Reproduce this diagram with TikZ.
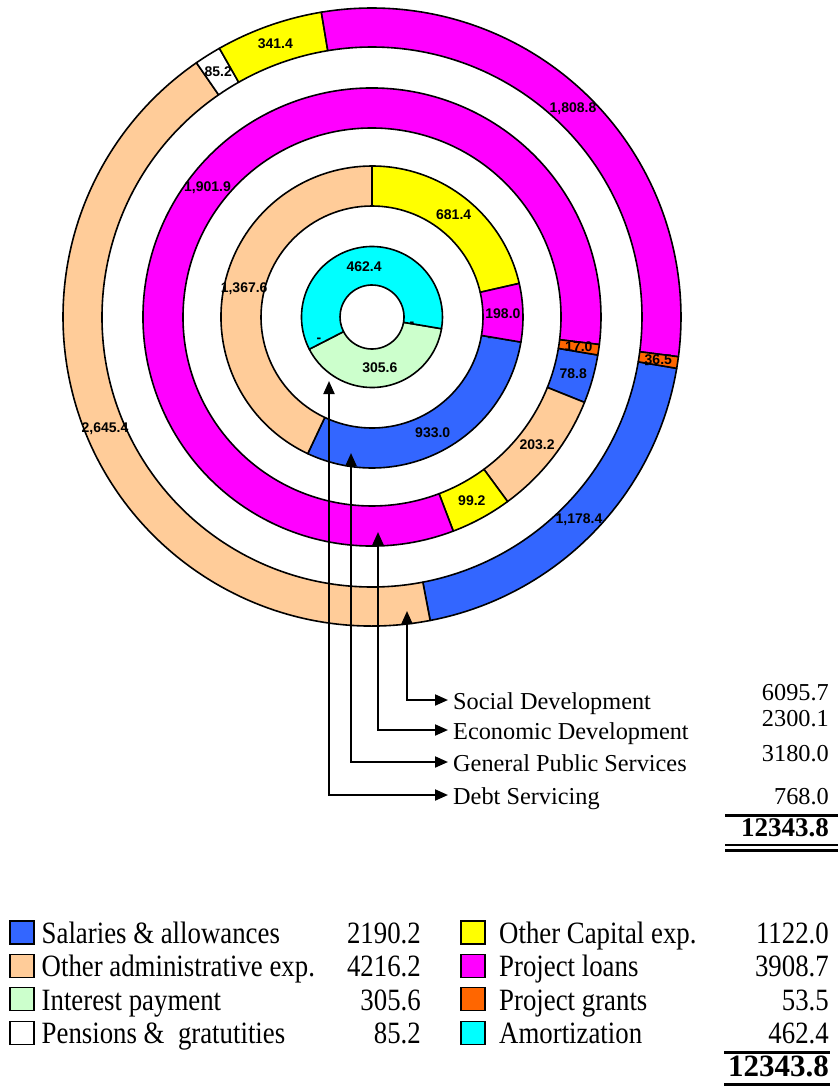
\documentclass[tikz,border=0pt]{standalone}
\usepackage{fontspec}
\setmainfont{Liberation Serif}
\newfontfamily\chartfont{Liberation Sans}
\newfontfamily\legfont[FakeStretch=0.865]{Liberation Serif}
\usetikzlibrary{arrows.meta}
\definecolor{cSal}{HTML}{3366FF}
\definecolor{cAdm}{HTML}{FFCC99}
\definecolor{cInt}{HTML}{CCFFCC}
\definecolor{cPen}{HTML}{FFFFFF}
\definecolor{cCap}{HTML}{FFFF00}
\definecolor{cLoan}{HTML}{FF00FF}
\definecolor{cGrant}{HTML}{FF6600}
\definecolor{cAmo}{HTML}{00FFFF}
\newcommand{\ringseg}[5]{%
  \filldraw[segline, fill=#5] (#3:#1) -- (#3:#2) arc[start angle=#3, end angle=#4, radius=#2] -- (#4:#1) arc[start angle=#4, end angle=#3, radius=#1] -- cycle;}
\tikzset{
  segline/.style={draw=black, line width=1.6bp, line join=round},
  vlab/.style={font=\chartfont\bfseries\fontsize{14bp}{14bp}\selectfont, inner sep=0pt},
  catlab/.style={font=\fontsize{24.3bp}{24.3bp}\selectfont, anchor=west, inner xsep=5bp, inner ysep=0pt, text height=18bp, text depth=0pt},
  tabnum/.style={font=\fontsize{24.3bp}{24.3bp}\selectfont, anchor=base east, inner sep=0pt},
  tabtot/.style={font=\bfseries\fontsize{27bp}{27bp}\selectfont, anchor=base east, inner sep=0pt},
  legtxt/.style={font=\legfont\fontsize{31bp}{31bp}\selectfont, anchor=base west, inner sep=0pt},
  legnum/.style={font=\legfont\fontsize{31bp}{31bp}\selectfont, anchor=base east, inner sep=0pt},
  legtot/.style={font=\bfseries\fontsize{31bp}{31bp}\selectfont, anchor=base east, inner sep=0pt},
  lbox/.style={draw=black, line width=1.5bp, minimum width=24bp, minimum height=23bp, inner sep=0pt},
  conn/.style={line width=2bp, arrows={Triangle[length=13bp,width=11bp]-Triangle[length=13bp,width=11bp]}},
  rule/.style={line width=3bp}
}
\begin{document}
\begin{tikzpicture}[x=1bp,y=1bp]
\fill[white] (0,0) rectangle (838,-1086);
\useasboundingbox (0,0) rectangle (838,-1086);
\begin{scope}[shift={(372,-317)}]
  % Social Development
  \ringseg{270}{309}{-9.56}{-79.15}{cSal}
  \ringseg{270}{309}{-79.15}{-235.38}{cAdm}
  \ringseg{270}{309}{-235.38}{-240.41}{cPen}
  \ringseg{270}{309}{-240.41}{-260.57}{cCap}
  \ringseg{270}{309}{-260.57}{-367.39}{cLoan}
  \ringseg{270}{309}{-367.39}{-369.56}{cGrant}
  % Economic Development
  \ringseg{189}{229}{-9.56}{-21.89}{cSal}
  \ringseg{189}{229}{-21.89}{-53.69}{cAdm}
  \ringseg{189}{229}{-53.69}{-69.22}{cCap}
  \ringseg{189}{229}{-69.22}{-366.90}{cLoan}
  \ringseg{189}{229}{-366.90}{-369.56}{cGrant}
  % General Public Services
  \ringseg{111}{151}{-9.56}{-115.18}{cSal}
  \ringseg{111}{151}{-115.18}{-270}{cAdm}
  \ringseg{111}{151}{-270}{-347.14}{cCap}
  \ringseg{111}{151}{-347.14}{-369.56}{cLoan}
  % Debt Servicing
  \ringseg{32}{70.5}{-9.56}{-152.81}{cInt}
  \ringseg{32}{70.5}{-152.81}{-369.56}{cAmo}
  % value labels
  \node[vlab] (vS1) at (-44.36:289.5) {1,178.4};
  \node[vlab] (vS2) at (-157.27:289.5) {2,645.4};
  \node[vlab] (vS3) at (-237.9:289.5) {85.2};
  \node[vlab] (vS4) at (-250.49:289.5) {341.4};
  \node[vlab] (vS5) at (-313.98:289.5) {1,808.8};
  \node[vlab] (vS6) at (-368.47:289.5) {36.5};
  \node[vlab] (vE1) at (-15.73:209) {78.8};
  \node[vlab] (vE2) at (-37.79:209) {203.2};
  \node[vlab] (vE3) at (-61.46:209) {99.2};
  \node[vlab] (vE4) at (-218.06:209) {1,901.9};
  \node[vlab] (vE5) at (-368.23:209) {17.0};
  \node[vlab] (vG1) at (-62.37:131) {933.0};
  \node[vlab] (vG2) at (-192.59:131) {1,367.6};
  \node[vlab] (vG3) at (51.43:131) {681.4};
  \node[vlab] (vG4) at (1.65:131) {198.0};
  \node[vlab] (vD1) at (-81.19:51.25) {305.6};
  \node[vlab] (vD2) at (98.81:51.25) {462.4};
\end{scope}
% zero-value dashes
\node[vlab] (z1) at (412,-324) {-};
\node[vlab] (z2) at (319,-340) {-};
\node[vlab] (z3) at (490,-339) {-};
\node[vlab] (z4) at (567,-351) {-};
\node[vlab] (z5) at (647,-366) {-};
% pointer targets
\coordinate (pD) at (329,-381);
\coordinate (pG) at (351,-453);
\coordinate (pE) at (378,-532);
\coordinate (pS) at (407,-611);
% category labels
\node[catlab] (lS) at (448,-700) {Social Development};
\node[catlab] (lE) at (448,-730) {Economic Development};
\node[catlab] (lG) at (448,-762) {General Public Services};
\node[catlab] (lD) at (448,-795) {Debt Servicing};
\draw[conn] (pS) |- (lS.west);
\draw[conn] (pE) |- (lE.west);
\draw[conn] (pG) |- (lG.west);
\draw[conn] (pD) |- (lD.west);
% category totals
\node[tabnum] (nS) at (829,-700) {6095.7};
\node[tabnum] (nE) at (829,-726) {2300.1};
\node[tabnum] (nG) at (829,-761) {3180.0};
\node[tabnum] (nD) at (829,-804) {768.0};
\draw[rule] (725,-815) -- (838,-815);
\node[tabtot] (nT) at (829,-836) {12343.8};
\draw[line width=2.5bp] (725,-845) -- (838,-845);
\draw[line width=2.5bp] (725,-850.5) -- (838,-850.5);
% legend column 1
\node[lbox, fill=cSal] (bSal) at (22,-932.5) {};
\node[lbox, fill=cAdm] (bAdm) at (22,-966) {};
\node[lbox, fill=cInt] (bInt) at (22,-999) {};
\node[lbox, fill=cPen] (bPen) at (22,-1033) {};
\node[legtxt] (tSal) at (41.5,-943) {Salaries \& allowances};
\node[legtxt] (tAdm) at (41.5,-976.5) {Other administrative exp.};
\node[legtxt] (tInt) at (41.5,-1010) {Interest payment};
\node[legtxt] (tPen) at (41.5,-1043) {Pensions \&\ \ gratutities};
\node[legnum] (mSal) at (421,-943) {2190.2};
\node[legnum] (mAdm) at (421,-976.5) {4216.2};
\node[legnum] (mInt) at (421,-1010) {305.6};
\node[legnum] (mPen) at (421,-1043) {85.2};
% legend column 2
\node[lbox, fill=cCap] (bCap) at (473,-932.5) {};
\node[lbox, fill=cLoan] (bLoan) at (473,-966) {};
\node[lbox, fill=cGrant] (bGrant) at (473,-999) {};
\node[lbox, fill=cAmo] (bAmo) at (473,-1033) {};
\node[legtxt] (tCap) at (499,-943) {Other Capital exp.};
\node[legtxt] (tLoan) at (499,-976.5) {Project loans};
\node[legtxt] (tGrant) at (499,-1010) {Project grants};
\node[legtxt] (tAmo) at (499,-1043) {Amortization};
\node[legnum] (mCap) at (829,-943) {1122.0};
\node[legnum] (mLoan) at (829,-976.5) {3908.7};
\node[legnum] (mGrant) at (829,-1010) {53.5};
\node[legnum] (mAmo) at (829,-1043) {462.4};
\draw[rule] (724,-1052.5) -- (830,-1052.5);
\node[legtot] (mTot) at (829,-1076.5) {12343.8};
\draw[rule] (724,-1084) -- (830,-1084);
\end{tikzpicture}
\end{document}
